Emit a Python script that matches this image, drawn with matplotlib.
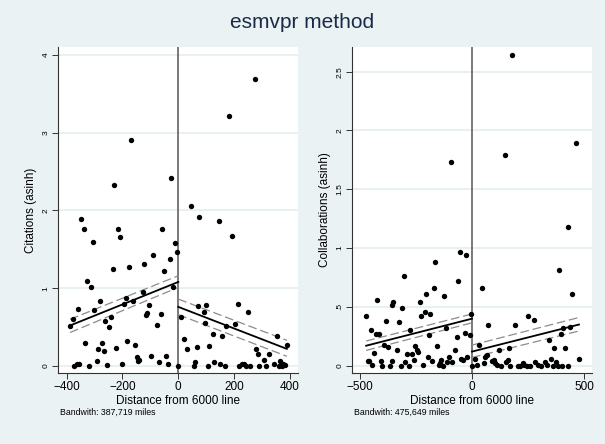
import matplotlib
matplotlib.use("Agg")
import matplotlib.pyplot as plt
import numpy as np

plt.rcParams['font.family'] = ['Liberation Sans', 'DejaVu Sans']

BG = '#eaf2f3'
GRID = '#e2ecee'
TITLE_C = '#1a2a48'

# ---- Citations panel: distance vs. citations (asinh) ----
cit_x = [-388, -378, -361, -374, -364, -355, -333, -326, -314, -319, -307, -301,
         -293, -287, -279, -275, -267, -261, -254, -248, -242, -233, -223, -208,
         -202, -195, -188, -182, -176, -164, -156, -149, -143, -140, -128, -123,
         -117, -112, -104, -98, -91, -76, -70, -63, -50, -44, -38, -31, -18, -12,
         -5, -349, -337, -229, -215, -171, -57, -26,
         0, 8, 20, 30, 55, 60, 66, 72, 91, 94, 100, 107, 111, 123, 128, 149, 158,
         167, 170, 193, 205, 213, 219, 228, 235, 241, 250, 256, 279, 284, 290, 308,
         315, 325, 343, 354, 362, 365, 370, 377, 382, 389, 45, 75, 146, 180, 275]
cit_y = [0.52, 0.60, 0.73, 0.00, 0.03, 0.03, 0.29, 1.09, 1.01, 0.00, 1.60, 0.72,
         0.06, 0.22, 0.83, 0.30, 0.19, 0.58, 0.01, 0.50, 0.63, 1.25, 0.23, 1.66,
         0.02, 0.80, 0.88, 0.32, 1.27, 0.84, 0.27, 0.12, 0.07, 0.08, 0.95, 1.31,
         0.66, 0.68, 0.78, 0.13, 1.43, 0.53, 0.05, 0.67, 1.22, 0.13, 0.03, 1.38, 1.02, 1.58,
         1.47, 1.89, 1.76, 2.33, 1.76, 2.90, 1.76, 2.41,
         0.00, 0.63, 0.35, 0.22, 0.00, 0.05, 0.25, 0.77, 0.69, 0.55, 0.78, 0.00, 0.26,
         0.41, 0.05, 0.02, 0.38, 0.00, 0.51, 1.67, 0.54, 0.80, 0.00, 0.02, 0.02,
         0.00, 0.69, 0.00, 0.22, 0.15, 0.00, 0.08, 0.00, 0.16, 0.03, 0.38, 0.00,
         0.06, 0.00, 0.02, 0.01, 0.27, 2.05, 1.92, 1.87, 3.21, 3.69]

# local linear fits: [x_start, x_end], fitted values, lower and upper CI
cit_fit_left_x = [-388, 0]
cit_fit_left = [0.52, 1.08]
cit_ci_left_lo = [0.43, 1.01]
cit_ci_left_hi = [0.60, 1.16]
cit_fit_right_x = [0, 389]
cit_fit_right = [0.76, 0.22]
cit_ci_right_lo = [0.66, 0.125]
cit_ci_right_hi = [0.86, 0.33]
cit_bandwidth = "387,719"

# ---- Collaborations panel ----
col_x = [-471, -465, -458, -450, -443, -436, -427, -421, -415, -406, -399, -390,
         -381, -376, -366, -357, -350, -357, -332, -324, -316, -310, -304, -296,
         -289, -281, -274, -267, -259, -253, -244, -239, -233, -227, -219, -210,
         -204, -197, -191, -185, -176, -169, -163, -157, -148, -142, -136, -130,
         -123, -116, -110, -102, -89, -77, -67, -61, -53, -47, -40, -33, -25, -21,
         -10, -4, -93,
         0, 12, 22, 31, 44, 55, 59, 67, 73, 89, 96, 104, 111, 120, 129, 151, 159,
         166, 170, 193, 203, 215, 225, 233, 243, 250, 258, 277, 281, 292, 307, 323,
         333, 342, 350, 359, 363, 373, 384, 388, 394, 401, 407, 415, 425, 437, 444,
         476, 179, 147, 464, 429]
col_y = [0.42, 0.04, 0.04, 0.30, 0.01, 0.11, 0.27, 0.56, 0.27, 0.04, 0.00, 0.18,
         0.38, 0.16, 0.00, 0.52, 0.54, 0.04, 0.13, 0.37, 0.00, 0.49, 0.76, 0.03,
         0.10, 0.00, 0.30, 0.10, 0.05, 0.17, 0.13, 0.12, 0.54, 0.42, 0.01, 0.46,
         0.61, 0.07, 0.26, 0.44, 0.04, 0.66, 0.88, 0.17, 0.01, 0.02, 0.05, 0.00,
         0.59, 0.32, 0.03, 0.07, 0.03, 0.13, 0.24, 0.72, 0.97, 0.06, 0.05, 0.28, 0.94, 0.07,
         0.26, 0.44, 1.73,
         0.00, 0.06, 0.01, 0.18, 0.66, 0.02, 0.07, 0.09, 0.35, 0.04, 0.05, 0.02, 0.01,
         0.13, 0.00, 0.03, 0.05, 0.15, 0.00, 0.35, 0.00, 0.00, 0.02, 0.01, 0.00,
         0.42, 0.00, 0.39, 0.03, 0.01, 0.00, 0.03, 0.01, 0.22, 0.06, 0.00, 0.15,
         0.03, 0.00, 0.81, 0.27, 0.00, 0.32, 0.15, 0.00, 0.33, 0.61, 0.06, 2.64,
         1.79, 1.89, 1.18]

col_fit_left_x = [-471, 0]
col_fit_left = [0.17, 0.40]
col_ci_left_lo = [0.13, 0.365]
col_ci_left_hi = [0.21, 0.44]
col_fit_right_x = [0, 476]
col_fit_right = [0.12, 0.35]
col_ci_right_lo = [0.07, 0.295]
col_ci_right_hi = [0.175, 0.41]
col_bandwidth = "475,649"

W, H = 605, 444
fig = plt.figure(figsize=(W / 100, H / 100), dpi=100, facecolor=BG)


def fmt_tick(v):
    s = ('%g' % v)
    if s.startswith('0.'):
        s = s[1:]
    return s


def panel(rect, xs, ys, fits, xlim, ylim, xticks, yticks, ylabel, bw, bw_pos):
    ax = fig.add_axes([rect[0] / W, 1 - (rect[1] + rect[3]) / H, rect[2] / W, rect[3] / H])
    ax.set_facecolor('white')
    ax.set_xlim(*xlim)
    ax.set_ylim(*ylim)
    for y in yticks:
        ax.axhline(y, color=GRID, lw=1.1, zorder=0)
    ax.axvline(0, color='#555555', lw=1.1, zorder=1)
    ax.scatter(xs, ys, s=15, color='black', zorder=3, linewidths=0)
    for fx, fy, lo, hi in fits:
        ax.plot(fx, lo, color='#8c8c8c', lw=0.9, ls=(0, (7, 3)), zorder=2)
        ax.plot(fx, hi, color='#8c8c8c', lw=0.9, ls=(0, (7, 3)), zorder=2)
        ax.plot(fx, fy, color='black', lw=1.3, zorder=4)
    for sp in ['top', 'right']:
        ax.spines[sp].set_visible(False)
    for sp in ['left', 'bottom']:
        ax.spines[sp].set_color('#333333')
        ax.spines[sp].set_linewidth(0.8)
    ax.set_xticks(xticks)
    ax.set_xticklabels([('%d' % v).replace('-', '\u2212') for v in xticks], fontsize=8.5)
    ax.set_yticks(yticks)
    ax.set_yticklabels([fmt_tick(v) for v in yticks], fontsize=6, rotation=90, va='center')
    ax.tick_params(axis='both', direction='out', length=4, width=0.7, color='#333333', pad=2)
    ax.set_xlabel('Distance from 6000 line', fontsize=8.5, labelpad=1)
    ax.set_ylabel(ylabel, fontsize=8.5, labelpad=4)
    fig.text(bw_pos[0] / W, 1 - bw_pos[1] / H, 'Bandwith: %s miles' % bw,
             fontsize=6.3, ha='left', va='center')
    return ax


panel((58, 47, 240, 326), cit_x, cit_y,
      [(cit_fit_left_x, cit_fit_left, cit_ci_left_lo, cit_ci_left_hi),
       (cit_fit_right_x, cit_fit_right, cit_ci_right_lo, cit_ci_right_hi)],
      (-431, 429), (-0.09, 4.10), [-400, -200, 0, 200, 400], [0, 1, 2, 3, 4],
      'Citations (asinh)', cit_bandwidth, (60, 412))

panel((352, 47, 240, 326), col_x, col_y,
      [(col_fit_left_x, col_fit_left, col_ci_left_lo, col_ci_left_hi),
       (col_fit_right_x, col_fit_right, col_ci_right_lo, col_ci_right_hi)],
      (-534, 534), (-0.062, 2.71), [-500, 0, 500], [0, 0.5, 1, 1.5, 2, 2.5],
      'Collaborations (asinh)', col_bandwidth, (354, 412))

fig.text(0.5, 1 - 22 / H, 'esmvpr method', fontsize=15, color=TITLE_C,
         ha='center', va='center')

fig.savefig('out.png', dpi=100, facecolor=BG)
